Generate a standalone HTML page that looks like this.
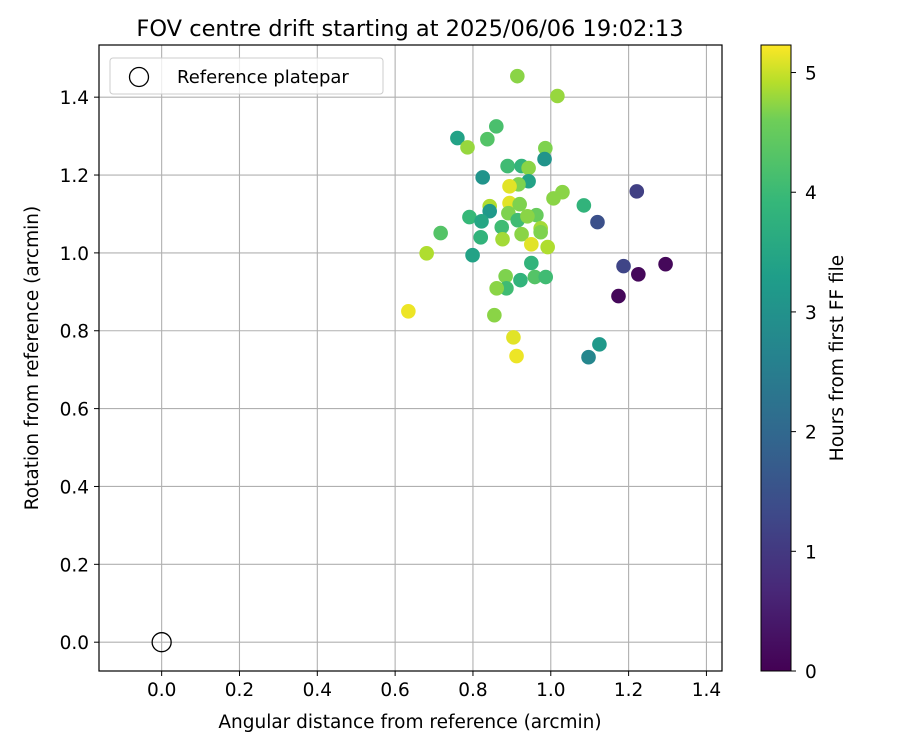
<!DOCTYPE html>
<html><head><meta charset="utf-8"><style>
html,body{margin:0;padding:0;background:#fff;width:900px;height:750px;overflow:hidden}
svg text{font-family:"DejaVu Sans","Liberation Sans",sans-serif;fill:#000}
</style></head><body>
<svg id="chart" width="900" height="750" xmlns="http://www.w3.org/2000/svg">
<defs>
<linearGradient id="vir" x1="0" y1="1" x2="0" y2="0">
<stop offset="0" stop-color="#440154"/><stop offset="0.13" stop-color="#482878"/>
<stop offset="0.25" stop-color="#3e4989"/><stop offset="0.38" stop-color="#31688e"/>
<stop offset="0.5" stop-color="#26828e"/><stop offset="0.63" stop-color="#1f9e89"/>
<stop offset="0.75" stop-color="#35b779"/><stop offset="0.88" stop-color="#6ece58"/>
<stop offset="0.94" stop-color="#b5de2b"/><stop offset="1" stop-color="#fde725"/>
</linearGradient>
</defs>
<text x="410" y="36" font-size="22.5" text-anchor="middle">FOV centre drift starting at 2025/06/06 19:02:13</text>
<g id="grid"></g>
<g id="points"></g>
<rect x="99" y="45" width="623" height="626" fill="none" stroke="#000" stroke-width="1.2"/>
<g id="axes"></g>
<text x="410" y="728" font-size="18.5" text-anchor="middle">Angular distance from reference (arcmin)</text>
<text transform="translate(38,358) rotate(-90)" font-size="18.5" text-anchor="middle">Rotation from reference (arcmin)</text>
<g>
<rect x="110" y="58" width="273" height="36" rx="3" fill="#fff" fill-opacity="0.8" stroke="#ccc"/>
<circle cx="139" cy="77" r="9.5" fill="none" stroke="#000" stroke-width="1.3"/>
<text x="177" y="83" font-size="18">Reference platepar</text>
</g>
<rect x="761" y="45" width="30" height="626" fill="url(#vir)" stroke="#000" stroke-width="1"/>
<g id="cbaxis"></g>
<text transform="translate(843,358) rotate(-90)" font-size="18.5" text-anchor="middle">Hours from first FF file</text>
</svg>
<script>
const xTicks=[0.0,0.2,0.4,0.6,0.8,1.0,1.2,1.4];
const yTicks=[0.0,0.2,0.4,0.6,0.8,1.0,1.2,1.4];
const cTicks=[0,1,2,3,4,5];
const xs=[.914,1.017,.760,.786,.837,.860,.986,.984,.889,.925,.943,.943,.825,.917,.894,1.030,1.007,1.221,1.085,.894,.920,.843,.843,.791,.963,.891,.822,.915,.940,1.120,.974,.974,.717,.820,.874,.925,.876,.950,.992,.681,.799,.950,1.187,1.225,1.295,.884,.959,.987,.922,.886,.861,1.174,.634,.855,.904,1.125,.912,1.097];
const ys=[1.454,1.403,1.295,1.271,1.292,1.325,1.269,1.241,1.223,1.223,1.218,1.184,1.194,1.176,1.171,1.156,1.140,1.158,1.122,1.128,1.125,1.120,1.107,1.092,1.097,1.102,1.081,1.084,1.094,1.079,1.063,1.053,1.051,1.040,1.066,1.048,1.035,1.022,1.015,.999,.994,.974,.966,.945,.971,.940,.938,.938,.930,.909,.909,.889,.850,.840,.783,.765,.735,.732];
const hrs=[4.3,4.4,3.0,4.4,3.8,3.7,4.2,2.7,3.6,3.4,4.3,3.0,2.7,4.2,5.0,4.3,4.3,1.0,3.4,5.0,4.2,4.6,2.8,3.5,4.0,4.2,3.1,3.6,4.3,1.3,4.5,4.2,3.8,3.4,3.6,4.3,4.5,5.0,4.6,4.6,3.0,3.4,1.1,0.1,0.1,4.2,3.8,3.6,3.4,3.6,4.3,0.1,5.1,4.3,5.0,2.8,5.1,2.4];
const X0=-0.161,X1=1.44,Y0=-0.074,Y1=1.534,L=99,R=722,T=45,B=671,HMAX=5.23;
const sx=v=>L+(v-X0)/(X1-X0)*(R-L);
const sy=v=>B-(v-Y0)/(Y1-Y0)*(B-T);
const sc=v=>671-v/HMAX*626;
const NS='http://www.w3.org/2000/svg';
const vir=[[68,1,84],[72,40,120],[62,73,137],[49,104,142],[38,130,142],[31,158,137],[53,183,121],[110,206,88],[181,222,43],[253,231,37]];
function color(h){let t=Math.max(0,Math.min(1,h/HMAX))*(vir.length-1);let i=Math.min(vir.length-2,Math.floor(t));let f=t-i;
const c=vir[i].map((a,k)=>Math.round(a+(vir[i+1][k]-a)*f));return `rgb(${c})`;}
function mk(tag,attrs,parent){const e=document.createElementNS(NS,tag);for(const k in attrs)e.setAttribute(k,attrs[k]);parent.appendChild(e);return e;}
const grid=document.getElementById('grid'),axes=document.getElementById('axes'),pts=document.getElementById('points'),cb=document.getElementById('cbaxis');
xTicks.forEach(v=>{const x=sx(v);
const g=mk('line',{x1:x,x2:x,y1:T,y2:B,stroke:'#b0b0b0','stroke-width':1.1},grid);


mk('line',{x1:x,x2:x,y1:B,y2:B+5,stroke:'#000'},axes);
const t=mk('text',{x:x,y:B+25,'font-size':18.5,'text-anchor':'middle'},axes);t.textContent=v.toFixed(1);

});
yTicks.forEach(v=>{const y=sy(v);
const g=mk('line',{x1:L,x2:R,y1:y,y2:y,stroke:'#b0b0b0','stroke-width':1.1},grid);


mk('line',{x1:L-5,x2:L,y1:y,y2:y,stroke:'#000'},axes);
const t=mk('text',{x:L-10,y:y+7,'font-size':18.5,'text-anchor':'end'},axes);t.textContent=v.toFixed(1);

});
xs.forEach((v,i)=>{const c=mk('circle',{cx:sx(v),cy:sy(ys[i]),r:7.3,fill:color(hrs[i])},pts);

});
const ref=mk('circle',{cx:sx(0),cy:sy(0),r:9.5,fill:'none',stroke:'#000','stroke-width':1.3},pts);


cTicks.forEach(v=>{const y=sc(v);
mk('line',{x1:791,x2:796,y1:y,y2:y,stroke:'#000'},cb);
const t=mk('text',{x:805,y:y+7,'font-size':18.5},cb);t.textContent=String(v);

});
</script>
</body></html>
